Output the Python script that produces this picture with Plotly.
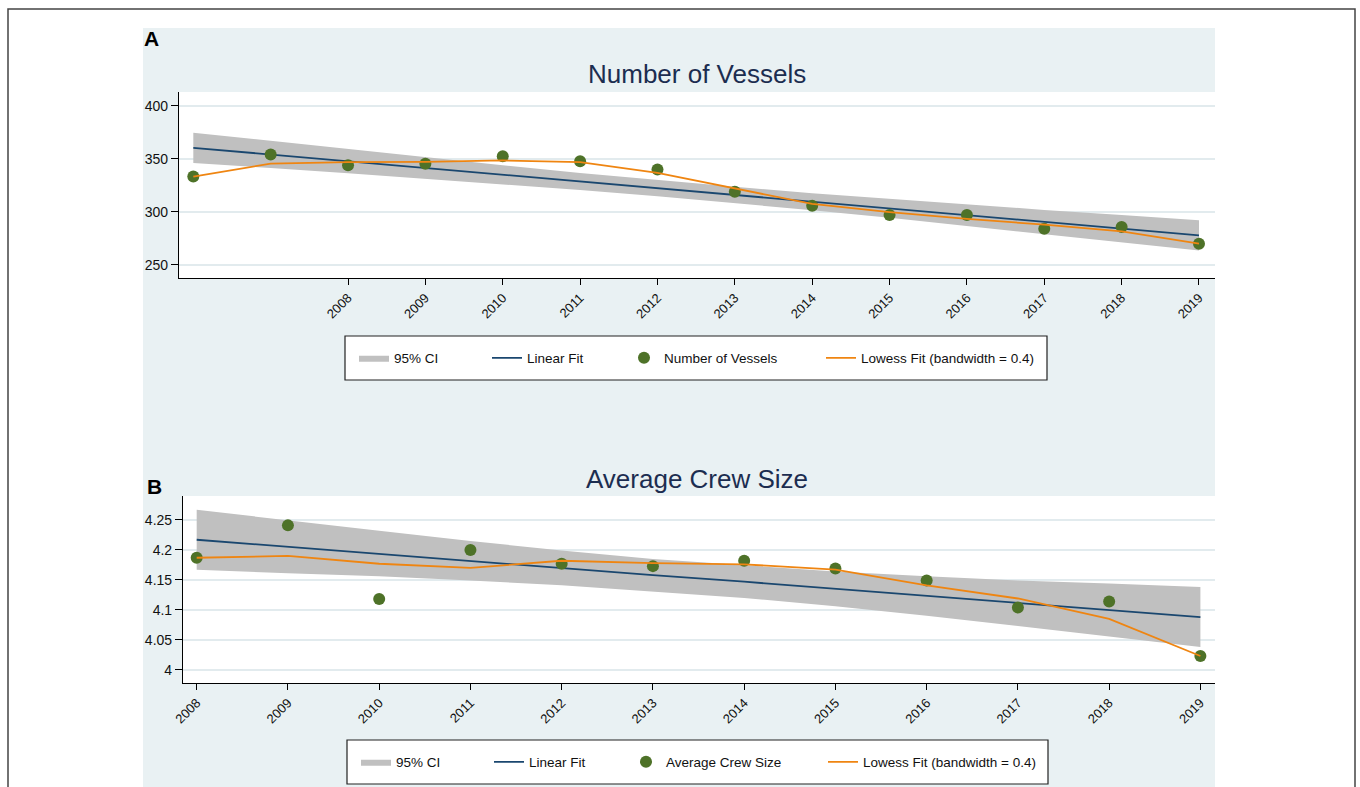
import plotly.graph_objects as go

# ---------------- Panel A: Number of Vessels ----------------
years_a = [2006, 2007, 2008, 2009, 2010, 2011, 2012, 2013, 2014, 2015, 2016, 2017, 2018, 2019]
vessels = [333.3, 354.1, 344.0, 345.3, 352.5, 347.8, 339.9, 319.0, 305.8, 297.0, 297.0, 284.2, 285.8, 270.0]
vessels_linear = [360.4, 354.1, 347.7, 341.4, 335.0, 328.7, 322.3, 316.0, 309.6, 303.3, 296.9, 290.6, 284.2, 277.9]
vessels_ci_upper = [374.7, 366.9, 359.0, 351.4, 343.9, 336.7, 329.9, 323.6, 317.6, 312.2, 306.9, 301.9, 297.0, 292.2]
vessels_ci_lower = [346.1, 341.3, 336.4, 331.4, 326.1, 320.7, 314.7, 308.4, 301.6, 294.4, 286.9, 279.3, 271.4, 263.6]
vessels_lowess = [333.3, 345.5, 346.9, 347.2, 348.5, 347.0, 336.7, 322.0, 307.6, 299.7, 293.4, 288.0, 281.7, 270.0]
ticks_a_x = [2008, 2009, 2010, 2011, 2012, 2013, 2014, 2015, 2016, 2017, 2018, 2019]
ticks_a_y = [250, 300, 350, 400]

# ---------------- Panel B: Average Crew Size ----------------
years_b = [2008, 2009, 2010, 2011, 2012, 2013, 2014, 2015, 2016, 2017, 2018, 2019]
crew = [4.187, 4.241, 4.118, 4.200, 4.177, 4.173, 4.182, 4.169, 4.149, 4.104, 4.114, 4.023]
crew_linear = [4.217, 4.205, 4.194, 4.182, 4.170, 4.158, 4.147, 4.135, 4.123, 4.111, 4.100, 4.088]
crew_ci_upper = [4.267, 4.249, 4.232, 4.215, 4.199, 4.185, 4.174, 4.164, 4.156, 4.149, 4.144, 4.138]
crew_ci_lower = [4.167, 4.161, 4.156, 4.149, 4.141, 4.131, 4.120, 4.106, 4.090, 4.073, 4.056, 4.038]
crew_lowess = [4.187, 4.190, 4.177, 4.170, 4.182, 4.178, 4.176, 4.167, 4.141, 4.119, 4.085, 4.023]
ticks_b_x = years_b
ticks_b_y = [4.0, 4.05, 4.1, 4.15, 4.2, 4.25]
ticks_b_y_text = ["4", "4.05", "4.1", "4.15", "4.2", "4.25"]

legend_names = ["95% CI", "Linear Fit", None, "Lowess Fit (bandwidth = 0.4)"]

W, H = 1360, 787
def px(x):
    return x / W
def py(y):
    return 1 - y / H

BAND = "#c0c0c0"
NAVY = "#1a476f"
GREEN = "#4e7228"
ORANGE = "#ef8511"
BG = "#e9f1f3"
GRID = "#e2ebee"
TITLE = "#1c2d50"
FONT = "Liberation Sans, Arial, sans-serif"

fig = go.Figure()

# per-entry legend widths (text slot, px)
LW = [88, 92, 152, 180]

def add_panel(xs, ys, lin, up, lo, lw, name, xa, ya, leg):
    fig.add_trace(go.Scatter(x=xs + xs[::-1], y=up + lo[::-1], fill="toself",
                             fillcolor=BAND, line=dict(width=0, color=BAND),
                             mode="lines", name=legend_names[0], xaxis=xa, yaxis=ya,
                             legend=leg, legendwidth=LW[0], hoverinfo="skip"))
    fig.add_trace(go.Scatter(x=xs, y=lin, mode="lines", line=dict(color=NAVY, width=1.8),
                             name=legend_names[1], xaxis=xa, yaxis=ya, legend=leg,
                             legendwidth=LW[1]))
    fig.add_trace(go.Scatter(x=xs, y=ys, mode="markers",
                             marker=dict(color=GREEN, size=12),
                             name=name, xaxis=xa, yaxis=ya, legend=leg, legendwidth=LW[2]))
    fig.add_trace(go.Scatter(x=xs, y=lw, mode="lines", line=dict(color=ORANGE, width=1.8),
                             name=legend_names[3], xaxis=xa, yaxis=ya,
                             legend=leg, legendwidth=LW[3]))

add_panel(years_a, vessels, vessels_linear, vessels_ci_upper, vessels_ci_lower,
          vessels_lowess, "Number of Vessels", "x", "y", "legend")
add_panel(years_b, crew, crew_linear, crew_ci_upper, crew_ci_lower,
          crew_lowess, "Average Crew Size", "x2", "y2", "legend2")

axis_common = dict(showline=True, linecolor="black", linewidth=1.2, ticks="outside",
                   tickcolor="black", tickwidth=1, zeroline=False, automargin=False)
xfont = dict(family=FONT, size=13, color="#111")
yfont = dict(family=FONT, size=14, color="#111")

legend_common = dict(orientation="h", xanchor="left", yanchor="middle",
                     borderwidth=0, bgcolor="rgba(0,0,0,0)",
                     font=dict(family=FONT, size=13.5, color="#111"))

fig.update_layout(
    width=W, height=H, margin=dict(l=0, r=0, t=0, b=0, autoexpand=False),
    paper_bgcolor=BG, plot_bgcolor="white", showlegend=True,
    xaxis=dict(domain=[px(179), px(1215)], range=[2005.815, 2019.207],
               tickvals=ticks_a_x, ticktext=[str(v) for v in ticks_a_x], tickangle=-45,
               showgrid=False, anchor="y", ticklen=6, tickfont=xfont, **axis_common),
    yaxis=dict(domain=[py(278), py(92)], range=[237.7, 413], tickvals=ticks_a_y,
               showgrid=True, gridcolor=GRID, gridwidth=1.5, anchor="x",
               ticklen=7, tickfont=yfont, **axis_common),
    xaxis2=dict(domain=[px(183), px(1215)], range=[2007.85, 2019.16],
                tickvals=ticks_b_x, ticktext=[str(v) for v in ticks_b_x], tickangle=-45,
                showgrid=False, anchor="y2", ticklen=6, tickfont=xfont, **axis_common),
    yaxis2=dict(domain=[py(683), py(496)], range=[3.978, 4.29], tickvals=ticks_b_y,
                ticktext=ticks_b_y_text, showgrid=True, gridcolor=GRID, gridwidth=1.5,
                anchor="x2", ticklen=7, tickfont=yfont, **axis_common),
    legend=dict(x=px(354), y=py(358), **legend_common),
    legend2=dict(x=px(356), y=py(762), **legend_common),
)

# white page outside the light panel background, legend boxes and the outer frame
def rect(x0, x1, y0, y1, fill, line_w=0, line_c="rgba(0,0,0,0)", layer="below"):
    return dict(type="rect", xref="paper", yref="paper", x0=px(x0), x1=px(x1),
                y0=py(y1), y1=py(y0), fillcolor=fill,
                line=dict(width=line_w, color=line_c), layer=layer)

shapes = [
    rect(0, 143, 0, H, "white"),
    rect(1215, W, 0, H, "white"),
    rect(0, W, 0, 28, "white"),
    rect(345, 1047, 336, 380, "white", 1.2, "#222"),
    rect(347, 1048, 740, 784, "white", 1.2, "#222"),
    rect(8, 1355, 9, 800, "rgba(0,0,0,0)", 1.5, "#444", "above"),
]
fig.update_layout(shapes=shapes)

annotations = [
    dict(text="<b>A</b>", x=px(142), y=py(39), xanchor="left", yanchor="middle",
         font=dict(family=FONT, size=21, color="black")),
    dict(text="<b>B</b>", x=px(145), y=py(486), xanchor="left", yanchor="middle",
         font=dict(family=FONT, size=21, color="black")),
    dict(text="Number of Vessels", x=px(697), y=py(74), xanchor="center", yanchor="middle",
         font=dict(family=FONT, size=26, color=TITLE)),
    dict(text="Average Crew Size", x=px(697), y=py(479), xanchor="center", yanchor="middle",
         font=dict(family=FONT, size=26, color=TITLE)),
]
for a in annotations:
    a.update(xref="paper", yref="paper", showarrow=False)
fig.update_layout(annotations=annotations)

fig.write_html("out.html", config={"displayModeBar": False},
               post_script="document.body.style.margin='0';document.body.style.overflow='hidden';")
